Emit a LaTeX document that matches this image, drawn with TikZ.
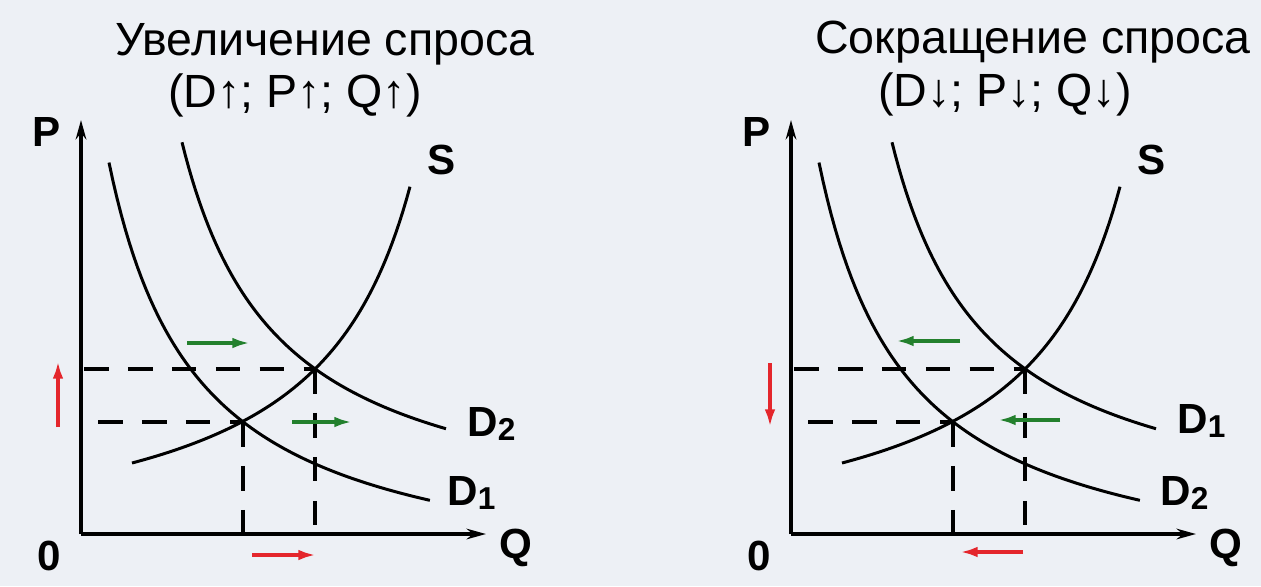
\documentclass[tikz,border=0pt]{standalone}
\usepackage{fontspec}
\setmainfont{Liberation Sans}
\usetikzlibrary{arrows.meta}

\definecolor{bgcol}{RGB}{237,240,245}
\definecolor{shiftgreen}{RGB}{35,128,45}
\definecolor{shiftred}{RGB}{228,38,44}

\tikzset{
  axis/.style={line width=2pt, -{Stealth[length=11pt,width=6pt]}},
  curve/.style={line width=1.7pt},
  guide/.style={line width=1.8pt, dash pattern=on 14pt off 11pt},
  move/.style={line width=2.1pt, -{Latex[length=10pt,width=6pt]}},
  lbl/.style={font=\fontsize{24}{24}\selectfont\bfseries, inner sep=0pt},
  ttl/.style={font=\fontsize{26.5}{28}\selectfont, inner sep=0pt, anchor=base},
}
\newcommand{\sub}[1]{\raisebox{-2.5pt}{\fontsize{18}{18}\selectfont #1}}

\begin{document}
\begin{tikzpicture}[x=0.02cm, y=-0.02cm]
\fill[bgcol] (0,0) rectangle (1261,586);
\useasboundingbox (0,0) rectangle (1261,586);

% ===== Заголовки =====
\node[ttl] (t1) at (325,55) {Увеличение спроса};
\node[ttl] (t1b) at (295,107) {(D↑; P↑; Q↑)};
\node[ttl] (t2) at (1033,53) {Сокращение спроса};
\node[ttl] (t2b) at (1005,106) {(D↓; P↓; Q↓)};

% ===== Оси, кривые, пунктир (обе панели) =====
\foreach \sx in {0,710} {
  \begin{scope}[shift={(\sx,0)}]
    \coordinate (O) at (81,534);
    \draw[axis] (O) -- (81,120);
    \draw[axis] (O) -- (486,534);
    \node[lbl] (P\sx) at (47,132) {P};
    \node[lbl] (Z\sx) at (49,556) {0};
    \node[lbl] (Q\sx) at (516,548) {Q};
    \node[lbl] (S\sx) at (442,160) {S};
    % кривые
    \draw[curve] plot[domain=0.28:3.49, samples=80] ({81+100*\x}, {594-384/(\x+0.61)});
    \draw[curve] plot[domain=1.01:3.65, samples=80] ({81+100*\x}, {534-380/(\x-0.04)});
    \draw[curve] plot[domain=0.51:3.29, samples=80] ({81+100*\x}, {564-383.4/(4.306-\x)});
    % равновесия
    \coordinate (E1) at (243,422);
    \coordinate (E2) at (315,369);
    \draw[guide] (84,369) -- (E2);
    \draw[guide] (98,422) -- (E1);
    \draw[guide] (E1) -- (E1 |- O);
    \draw[guide] (E2) -- (E2 |- O);
  \end{scope}
}

% ===== Подписи спроса =====
\node[lbl, anchor=base west] (d2l) at (467,436) {D\sub{2}};
\node[lbl, anchor=base west] (d1l) at (447,505) {D\sub{1}};
\node[lbl, anchor=base west] (d1r) at (1177,433) {D\sub{1}};
\node[lbl, anchor=base west] (d2r) at (1160,505) {D\sub{2}};

% ===== Стрелки сдвига =====
\draw[move, shiftgreen] (187,343) -- (250,343);
\draw[move, shiftgreen] (292,422) -- (352,422);
\draw[move, shiftred] (58,427) -- (58,361);
\draw[move, shiftred] (252,555) -- (316,555);

\draw[move, shiftgreen] (960,341) -- (896,341);
\draw[move, shiftgreen] (1060,420) -- (998,420);
\draw[move, shiftred] (770,363) -- (770,427);
\draw[move, shiftred] (1023,552) -- (960,552);

\end{tikzpicture}
\end{document}
